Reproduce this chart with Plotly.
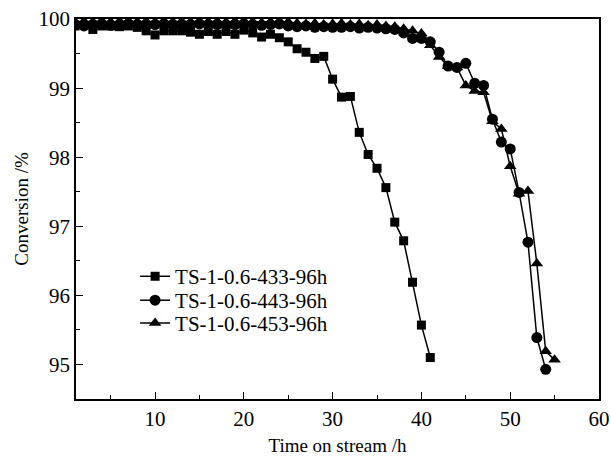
import plotly.graph_objects as go

# TS-1-0.6-433-96h (squares)
t_433 = [1, 3, 4, 5, 6, 7, 8, 9, 10, 11, 12, 13, 14, 15, 16, 17, 18, 19, 20, 21,
         22, 23, 24, 25, 26, 27, 28, 29, 30, 31, 32, 33, 34, 35, 36, 37, 38, 39, 40, 41]
c_433 = [99.90, 99.85, 99.90, 99.90, 99.89, 99.90, 99.88, 99.83, 99.77, 99.83, 99.83, 99.83, 99.81, 99.78, 99.82, 99.78, 99.82, 99.78, 99.84, 99.80,
         99.74, 99.78, 99.73, 99.67, 99.57, 99.52, 99.43, 99.46, 99.13, 98.87, 98.88, 98.36, 98.04, 97.84, 97.56, 97.06, 96.79, 96.19, 95.57, 95.10]

# TS-1-0.6-443-96h (circles)
t_443 = list(range(1, 55))
c_443 = [99.92, 99.90, 99.92, 99.93, 99.91, 99.92, 99.93, 99.92, 99.91, 99.92,
         99.93, 99.92, 99.91, 99.92, 99.93, 99.92, 99.92, 99.91, 99.92, 99.93,
         99.92, 99.91, 99.92, 99.93, 99.90, 99.89, 99.90, 99.88, 99.89, 99.88,
         99.88, 99.89, 99.87, 99.88, 99.87, 99.86, 99.85, 99.80, 99.72, 99.72,
         99.67, 99.52, 99.32, 99.30, 99.36, 99.07, 99.04, 98.55, 98.22, 98.12,
         97.49, 96.77, 95.39, 94.93]

# TS-1-0.6-453-96h (triangles)
t_453 = list(range(1, 56))
c_453 = [99.96, 99.97, 99.96, 99.97, 99.96, 99.97, 99.97, 99.96, 99.97, 99.96,
         99.97, 99.96, 99.97, 99.96, 99.97, 99.96, 99.97, 99.96, 99.97, 99.96,
         99.96, 99.95, 99.96, 99.95, 99.96, 99.94, 99.93, 99.94, 99.92, 99.93,
         99.94, 99.92, 99.93, 99.91, 99.92, 99.90, 99.89, 99.86, 99.83, 99.79,
         99.62, 99.45, 99.32, 99.30, 99.04, 98.96, 98.94, 98.52, 98.41, 97.87,
         97.47, 97.51, 96.46, 95.19, 95.07]

series = [
    ("TS-1-0.6-433-96h", t_433, c_433, "square", 9, "legend"),
    ("TS-1-0.6-443-96h", t_443, c_443, "circle", 11, "legend2"),
    ("TS-1-0.6-453-96h", t_453, c_453, "triangle-up", 11, "legend3"),
]

font = "Liberation Serif, Times New Roman, serif"

fig = go.Figure()
for name, x, y, sym, sz, lg in series:
    fig.add_trace(go.Scatter(x=x, y=y, name=name, mode="lines+markers", legend=lg,
                             line=dict(color="black", width=1.5),
                             marker=dict(symbol=sym, size=sz, color="black")))

axis = dict(showline=True, linecolor="black", linewidth=1.5, mirror=True,
            ticks="inside", ticklen=7, tickwidth=1.2, tickcolor="black",
            showgrid=False, zeroline=False, automargin=False,
            ticklabeloverflow="allow",
            tickfont=dict(family=font, size=21, color="black"))

fig.update_xaxes(**axis, range=[1.1, 60], dtick=10, tick0=0,
                 minor=dict(ticks="inside", ticklen=4, dtick=5, tick0=0, tickcolor="black"),
                 title=dict(text="Time on stream /h", font=dict(family=font, size=19, color="black"), standoff=11))
fig.update_yaxes(**axis, range=[94.5, 100.001], dtick=1, tick0=95,
                 minor=dict(ticks="inside", ticklen=4, dtick=0.5, tick0=95, tickcolor="black"),
                 title=dict(text="Conversion /%", font=dict(family=font, size=19, color="black"), standoff=5))

# legends split so the three rows can sit close together like the original
leg = dict(x=0.113, xanchor="left", yanchor="top", bgcolor="rgba(0,0,0,0)",
           font=dict(family=font, size=21, color="black"))

fig.update_layout(width=611, height=456, plot_bgcolor="white", paper_bgcolor="white",
                  margin=dict(l=76, r=12, t=19, b=57),
                  legend=dict(leg, y=0.376),
                  legend2=dict(leg, y=0.313),
                  legend3=dict(leg, y=0.253),
                  showlegend=True)

# drop the default page margin so the figure fills the window
fig.write_html("out.html", config={"displayModeBar": False},
               post_script="document.body.style.margin='0';document.body.style.overflow='hidden';")
